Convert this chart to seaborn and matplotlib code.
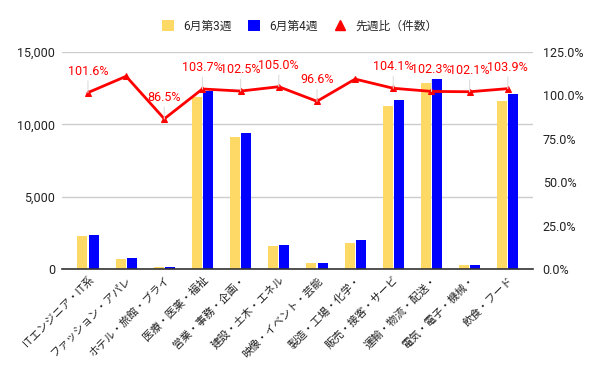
import matplotlib
matplotlib.use('Agg')
import matplotlib.pyplot as plt
import seaborn as sns
import numpy as np
import pandas as pd
from matplotlib.ticker import FuncFormatter, FixedLocator
from matplotlib.lines import Line2D
from matplotlib.patches import Patch

categories = ['ITエンジニア・IT系', 'ファッション・アパレ', 'ホテル・旅館・ブライ', '医療・医薬・福祉',
              '営業・事務・企画・', '建設・土木・エネル', '映像・イベント・芸能', '製造・工場・化学・',
              '販売・接客・サービ', '運輸・物流・配送・', '電気・電子・機械・', '飲食・フード']
week3 = [2300, 700, 165, 11860, 9150, 1580, 430, 1820, 11250, 12850, 290, 11620]
week4 = [2337, 770, 143, 12300, 9380, 1660, 415, 1990, 11710, 13145, 296, 12073]
ratio = [101.6, 111.0, 86.5, 103.7, 102.5, 105.0, 96.6, 109.4, 104.1, 102.3, 102.1, 103.9]
show_label = [True, False, True, True, True, True, True, False, True, True, True, True]
series_names = ['6月第3週', '6月第4週']
line_name = '先週比（件数）'
left_ticks = [0, 5000, 10000, 15000]
right_ticks = [0, 25, 50, 75, 100, 125]

YELLOW = '#ffd966'
BLUE = '#0000ff'
RED = '#ff0000'

sns.set_theme(style='white')
plt.rcParams['font.family'] = ['Roboto', 'Noto Sans CJK JP']

n = len(categories)
df = pd.DataFrame({
    'category': categories * 2,
    'value': week3 + week4,
    'series': [series_names[0]] * n + [series_names[1]] * n,
})

fig = plt.figure(figsize=(6, 3.71), dpi=100)
ax = fig.add_axes([62 / 600, 1 - 269 / 371, 471 / 600, 217 / 371])
sns.barplot(data=df, x='category', y='value', hue='series', palette=[YELLOW, BLUE],
            width=0.585, gap=0.1, saturation=1, errorbar=None, legend=False, ax=ax,
            linewidth=0)
ax.set_xlim(-0.68, n - 1 + 0.66)
ax.set_ylim(0, 15000)
ax.yaxis.set_major_locator(FixedLocator(left_ticks))
ax.yaxis.set_major_formatter(FuncFormatter(lambda v, p: f'{v:,.0f}'))
ax.grid(axis='y', color='#cccccc', lw=1)
ax.grid(axis='x', visible=False)
ax.set_axisbelow(True)
for s in ['left', 'right', 'top']:
    ax.spines[s].set_visible(False)
ax.spines['bottom'].set_color('#333333')
ax.spines['bottom'].set_linewidth(1.2)
ax.set_xlabel('')
ax.set_ylabel('')
ax.tick_params(axis='y', length=0, pad=5, labelsize=9, labelcolor='#222222')
ax.tick_params(axis='x', length=0, pad=4, labelsize=7.8, labelcolor='#222222')
plt.setp(ax.get_xticklabels(), rotation=45, ha='right', va='top', rotation_mode='anchor')

ax2 = ax.twinx()
sns.lineplot(x=np.arange(n), y=ratio, ax=ax2, color=RED, lw=2, marker='^',
             markersize=5, markeredgecolor=RED, markerfacecolor=RED)
ax2.set_ylim(0, 125)
ax2.yaxis.set_major_locator(FixedLocator(right_ticks))
ax2.yaxis.set_major_formatter(FuncFormatter(lambda v, p: f'{v:.1f}%'))
ax2.grid(False)
for s in ax2.spines:
    ax2.spines[s].set_visible(False)
ax2.tick_params(axis='y', length=0, pad=7, labelsize=9, labelcolor='#222222')
ax2.set_ylabel('')
ax2.set_xlim(ax.get_xlim())

for i, (v, show) in enumerate(zip(ratio, show_label)):
    if not show:
        continue
    ax2.annotate(f'{v:.1f}%', xy=(i, v), xytext=(0, 15.5), textcoords='offset points',
                 ha='center', va='center', color=RED, fontsize=9,
                 arrowprops=dict(arrowstyle='-', color='#dddddd', lw=0.8, shrinkA=0, shrinkB=0))

handles = [Patch(facecolor=YELLOW, edgecolor='none'), Patch(facecolor=BLUE, edgecolor='none'),
           Line2D([], [], marker='^', color=RED, ls='none', markersize=7)]
fig.legend(handles, series_names + [line_name], loc='center', bbox_to_anchor=(0.5, 1 - 26 / 371),
           ncol=3, frameon=False, fontsize=8.5, handlelength=1.0, handleheight=1.0,
           handletextpad=0.8, columnspacing=1.4)

fig.savefig('out.png', dpi=100)
